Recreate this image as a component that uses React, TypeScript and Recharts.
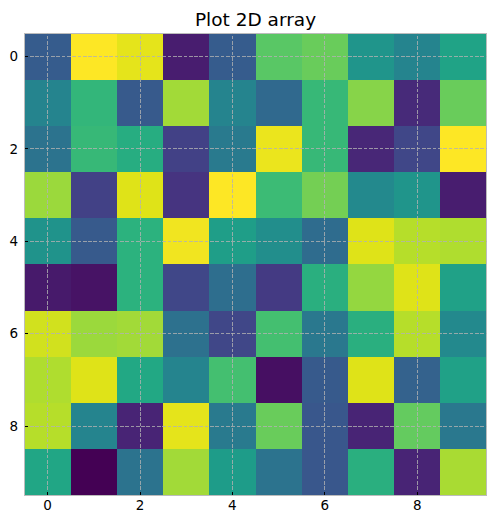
import React from "react";
import { ScatterChart, Scatter, XAxis, YAxis, ReferenceArea, ReferenceLine } from "recharts";

const title = "Plot 2D array";
const xTicks = [0, 2, 4, 6, 8];
const yTicks = [0, 2, 4, 6, 8];

const row0 = [0.29, 1.0, 0.96, 0.08, 0.29, 0.74, 0.77, 0.52, 0.45, 0.58];
const row1 = [0.45, 0.66, 0.28, 0.86, 0.45, 0.34, 0.67, 0.82, 0.12, 0.77];
const row2 = [0.38, 0.67, 0.62, 0.19, 0.41, 0.97, 0.67, 0.11, 0.21, 1.0];
const row3 = [0.85, 0.19, 0.95, 0.15, 1.0, 0.68, 0.79, 0.47, 0.52, 0.08];
const row4 = [0.51, 0.28, 0.64, 0.98, 0.56, 0.49, 0.35, 0.95, 0.89, 0.88];
const row5 = [0.07, 0.05, 0.64, 0.21, 0.36, 0.17, 0.63, 0.84, 0.95, 0.57];
const row6 = [0.93, 0.85, 0.86, 0.37, 0.21, 0.7, 0.4, 0.63, 0.89, 0.47];
const row7 = [0.88, 0.95, 0.6, 0.45, 0.7, 0.04, 0.28, 0.95, 0.31, 0.57];
const row8 = [0.89, 0.45, 0.1, 0.96, 0.41, 0.77, 0.27, 0.1, 0.76, 0.4];
const row9 = [0.59, 0.0, 0.38, 0.86, 0.55, 0.38, 0.27, 0.63, 0.1, 0.87];

const grid = [row0, row1, row2, row3, row4, row5, row6, row7, row8, row9];
const cells = grid.flatMap((row, r) => row.map((v, c) => ({ x: c, y: r, v })));

const VIRIDIS = [
  "#440154", "#471365", "#482475", "#463480", "#414487", "#3b528b", "#355f8d",
  "#2f6c8e", "#2a788e", "#25848e", "#21918c", "#1e9c89", "#22a884", "#2fb47c",
  "#44bf70", "#5ec962", "#7ad151", "#9bd93c", "#bddf26", "#dfe318", "#fde725",
];

function hexToRgb(h: string) {
  return [parseInt(h.slice(1, 3), 16), parseInt(h.slice(3, 5), 16), parseInt(h.slice(5, 7), 16)];
}

function viridis(t: number) {
  const tt = Math.max(0, Math.min(1, t)) * (VIRIDIS.length - 1);
  const i = Math.min(VIRIDIS.length - 2, Math.floor(tt));
  const f = tt - i;
  const a = hexToRgb(VIRIDIS[i]);
  const b = hexToRgb(VIRIDIS[i + 1]);
  const c = a.map((av, k) => Math.round(av + (b[k] - av) * f));
  return `rgb(${c[0]},${c[1]},${c[2]})`;
}

const tickStyle = { fill: "#000", fontSize: 13.5, fontFamily: "DejaVu Sans" };
const gridStroke = "#b2b2b2";

export default function App() {
  return (
    <div style={{ position: "relative", width: 487, height: 516 }}>
      <svg style={{ position: "absolute", left: 0, top: 0 }} width={487} height={30}>
        <text x={247.5} y={17.7} textAnchor="middle" fontFamily="DejaVu Sans" fontSize={18.5} fill="#000">
          {title}
        </text>
      </svg>
      <ScatterChart
        width={487}
        height={516}
        margin={{ top: 25.3, right: 8.5, left: 0, bottom: 0 }}
        style={{ shapeRendering: "crispEdges" }}
      >
        <XAxis
          type="number"
          dataKey="x"
          domain={[-0.5, 9.5]}
          ticks={xTicks}
          allowDataOverflow
          interval={0}
          height={28.7}
          tickSize={-3.5}
          tickMargin={8.7}
          axisLine={false}
          tickLine={{ stroke: "#000", strokeWidth: 1 }}
          tick={tickStyle}
        />
        <YAxis
          type="number"
          dataKey="y"
          domain={[-0.5, 9.5]}
          ticks={yTicks}
          reversed
          allowDataOverflow
          interval={0}
          width={16.5}
          tickSize={-3.5}
          tickMargin={10}
          axisLine={false}
          tickLine={{ stroke: "#000", strokeWidth: 1 }}
          tick={tickStyle}
        />
        {cells.map((c) => (
          <ReferenceArea
            key={`c-${c.x}-${c.y}`}
            x1={c.x - 0.5}
            x2={c.x + 0.5}
            y1={c.y - 0.5}
            y2={c.y + 0.5}
            fill={viridis(c.v)}
            fillOpacity={1}
            stroke="none"
            ifOverflow="visible"
          />
        ))}
        {xTicks.map((t) => (
          <ReferenceLine key={`gx-${t}`} x={t} stroke={gridStroke} strokeWidth={0.8} strokeDasharray="3.7 1.6" />
        ))}
        {yTicks.map((t) => (
          <ReferenceLine key={`gy-${t}`} y={t} stroke={gridStroke} strokeWidth={0.8} strokeDasharray="3.7 1.6" />
        ))}
        <ReferenceArea
          x1={-0.5}
          x2={9.5}
          y1={-0.5}
          y2={9.5}
          fill="none"
          stroke="#bcbcbc"
          strokeWidth={1}
          ifOverflow="visible"
        />
        <Scatter data={cells} isAnimationActive={false} shape={() => <g />} />
      </ScatterChart>
    </div>
  );
}
